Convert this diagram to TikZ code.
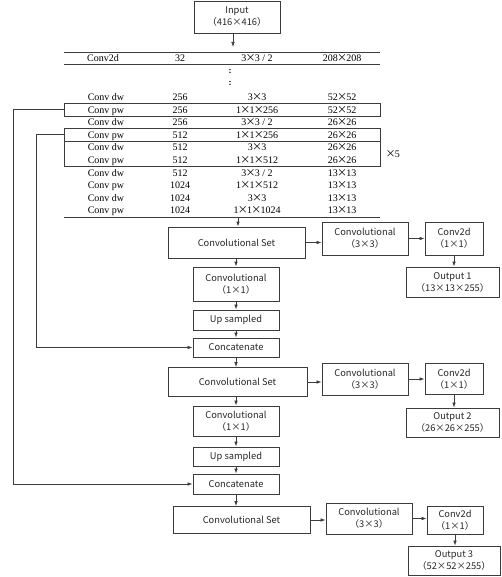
\documentclass[tikz,border=0pt]{standalone}
\usepackage{fontspec}
\setmainfont{Liberation Serif}
\newfontfamily\boxfam{Noto Sans CJK SC}
\usetikzlibrary{arrows.meta}
\definecolor{lc}{RGB}{60,60,60}
\newcommand\tx{\makebox[0.85em]{\boxfam\fontsize{10}{12}\selectfont ×}}
\newcommand\bx{\makebox[1em]{×}}
\newcommand\bfnt{\boxfam\fontsize{9.3}{12}\selectfont}
\newcommand\tfnt{\fontsize{10}{12}\selectfont}
\newcommand\tth{3\tx3 / 2}
\begin{document}
\begin{tikzpicture}[x=1pt,y=-1pt,
  ln/.style={draw=lc, line width=0.7pt},
  arr/.style={ln, -{Latex[length=5pt,width=3.6pt]}},
  bx/.style={draw=lc, line width=0.8pt, inner sep=0pt, align=center, font=\bfnt, text=black!85},
  cell/.style={inner sep=0pt, font=\tfnt, anchor=base, text=black},
  vd/.style={inner sep=0pt, font=\fontsize{9}{9}\selectfont\bfseries, text=black},
  rowbox/.style={draw=lc, line width=0.7pt, inner sep=0pt, minimum width=316}]
\useasboundingbox (0,0) rectangle (502,577);
% ---- input
\node[bx, minimum width=86, minimum height=32] (inp) at (237,17) {Input\\（416\bx416）};
\coordinate (ai) at (233,47);
\draw[arr] (inp.south -| ai) -- (ai);
% ---- table rules
\coordinate (t1l) at (64,52); \coordinate (t1r) at (380,52);
\coordinate (t2l) at (64,64); \coordinate (t2r) at (380,64);
\coordinate (t3l) at (64,217); \coordinate (t3r) at (380,217);
\draw[ln] (t1l) -- (t1r);
\draw[ln] (t2l) -- (t2r);
\draw[ln] (t3l) -- (t3r);
% first row
\node[cell] (h1) at (103,61.5) {Conv2d};
\node[cell] (h2) at (180,61.5) {32};
\node[cell] (h3) at (257,61.5) {\tth};
\node[cell] (h4) at (342,61.5) {208\tx208};
\node[vd, anchor=base] (d1) at (230,73.5) {:};
\node[vd, anchor=base] (d2) at (230,86) {:};
% table rows
\foreach \i/\a/\b/\c/\d in {
  0/Conv dw/256/3\tx3/52\tx52,
  1/Conv pw/256/1\tx1\tx256/52\tx52,
  2/Conv dw/256/\tth/26\tx26,
  3/Conv pw/512/1\tx1\tx256/26\tx26,
  4/Conv dw/512/3\tx3/26\tx26,
  5/Conv pw/512/1\tx1\tx512/26\tx26,
  6/Conv dw/512/\tth/13\tx13,
  7/Conv pw/1024/1\tx1\tx512/13\tx13,
  8/Conv dw/1024/3\tx3/13\tx13,
  9/Conv pw/1024/1\tx1\tx1024/13\tx13}{
  \node[cell] (c\i-1) at (106,{100.5+12.6*\i}) {\a};
  \node[cell] (c\i-2) at (180,{100.5+12.6*\i}) {\b};
  \node[cell] (c\i-3) at (257,{100.5+12.6*\i}) {\c};
  \node[cell] (c\i-4) at (342,{100.5+12.6*\i}) {\d};
}
\node[rowbox, minimum height=12.6] (rb1) at (222,109.6) {};
\node[rowbox, minimum height=12.6] (rb2) at (222,134.8) {};
\node[rowbox, minimum height=25.2] (rb3) at (222,153.7) {};
\node[inner sep=0pt, font=\tfnt, text=black] (x5) at (393,154) {\tx5};
% ---- branch 1
\node[bx, minimum width=137, minimum height=31] (cs1) at (236.5,242.5) {Convolutional Set};
\node[bx, minimum width=86, minimum height=33] (c3a) at (365,238.5) {Convolutional\\（3\bx3）};
\node[bx, minimum width=58, minimum height=33] (c2a) at (454,238.5) {Conv2d\\（1\bx1）};
\node[bx, minimum width=93, minimum height=30] (o1) at (452.5,282) {Output 1\\（13\bx13\bx255）};
\node[bx, minimum width=86, minimum height=34] (c1a) at (236,284) {Convolutional\\（1\bx1）};
\node[bx, minimum width=86, minimum height=20] (up1) at (236,320) {Up sampled};
\node[bx, minimum width=86, minimum height=19] (cat1) at (236,347.5) {Concatenate};
% ---- branch 2
\node[bx, minimum width=139, minimum height=29] (cs2) at (237.5,382) {Convolutional Set};
\node[bx, minimum width=86, minimum height=32] (c3b) at (365,379) {Convolutional\\（3\bx3）};
\node[bx, minimum width=58, minimum height=31] (c2b) at (454,379) {Conv2d\\（1\bx1）};
\node[bx, minimum width=93, minimum height=29] (o2) at (452.5,422.5) {Output 2\\（26\bx26\bx255）};
\node[bx, minimum width=86, minimum height=30] (c1b) at (236,421) {Convolutional\\（1\bx1）};
\node[bx, minimum width=86, minimum height=19] (up2) at (236,456.5) {Up sampled};
\node[bx, minimum width=86, minimum height=20] (cat2) at (236,484) {Concatenate};
% ---- branch 3
\node[bx, minimum width=137, minimum height=27] (cs3) at (241.5,520) {Convolutional Set};
\node[bx, minimum width=86, minimum height=31] (c3c) at (369,518.5) {Convolutional\\（3\bx3）};
\node[bx, minimum width=56, minimum height=28] (c2c) at (455,520) {Conv2d\\（1\bx1）};
\node[bx, minimum width=92, minimum height=29] (o3) at (454,560.5) {Output 3\\（52\bx52\bx255）};
% ---- connectors
\coordinate (tb) at (238,217);
\draw[arr] (tb) -- (tb |- cs1.north);
\draw[arr] (cs1.east) -- (cs1.east -| c3a.west);
\draw[arr] (c3a.east) -- (c2a.west);
\draw[arr] (c2a.south) -- (c2a.south |- o1.north);
\draw[arr] (c1a.north |- cs1.south) -- (c1a.north);
\draw[arr] (c1a.south) -- (up1.north);
\draw[arr] (up1.south) -- (cat1.north);
\draw[arr] (cat1.south) -- (cat1.south |- cs2.north);
\draw[arr] (cs2.east) -- (cs2.east -| c3b.west);
\draw[arr] (c3b.east) -- (c2b.west);
\draw[arr] (c2b.south) -- (c2b.south |- o2.north);
\draw[arr] (c1b.north |- cs2.south) -- (c1b.north);
\draw[arr] (c1b.south) -- (up2.north);
\draw[arr] (up2.south) -- (cat2.north);
\draw[arr] (cat2.south) -- (cat2.south |- cs3.north);
\draw[arr] (cs3.east) -- (cs3.east -| c3c.west);
\draw[arr] (c3c.east) -- (c3c.east -| c2c.west);
\draw[arr] (c2c.south) -- (c2c.south |- o3.north);
% skip connections
\coordinate (lxi) at (36,0);
\coordinate (lxo) at (13,0);
\draw[arr] (rb2.west) -- (rb2.west -| lxi) -- (lxi |- cat1.west) -- (cat1.west);
\draw[arr] (rb1.west) -- (rb1.west -| lxo) -- (lxo |- cat2.west) -- (cat2.west);
\end{tikzpicture}
\end{document}
